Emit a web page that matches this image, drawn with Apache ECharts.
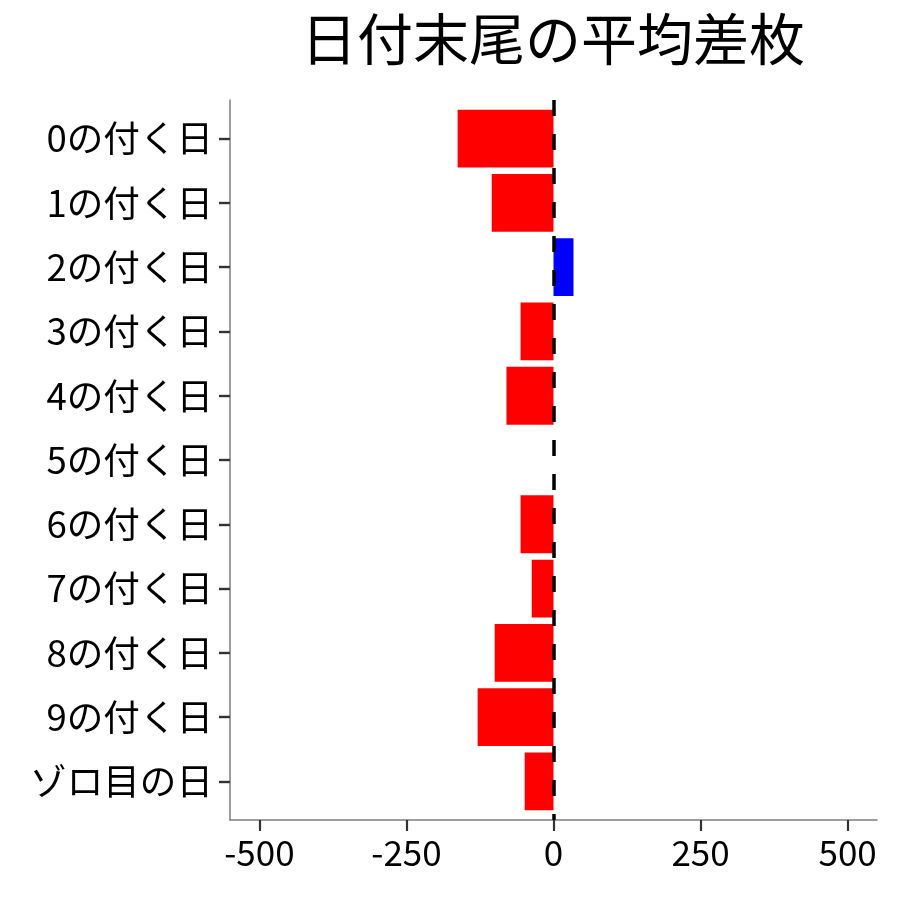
<!DOCTYPE html>
<html>
<head>
<meta charset="utf-8">
<script src="https://cdn.jsdelivr.net/npm/echarts@6/dist/echarts.min.js"></script>
<style>
html,body{margin:0;padding:0;background:#fff;}
#chart{width:900px;height:900px;}
</style>
</head>
<body>
<div id="chart"></div>
<script>
const titleText = '日付末尾の平均差枚';
const categories = ['0の付く日','1の付く日','2の付く日','3の付く日','4の付く日','5の付く日','6の付く日','7の付く日','8の付く日','9の付く日','ゾロ目の日'];
const values = [-163, -105, 34, -56, -80, 0, -56, -37, -100, -129, -49];
const xTicks = [-500, -250, 0, 250, 500];

const FONT = '"Noto Sans CJK JP", "Noto Sans", sans-serif';
const chart = echarts.init(document.getElementById('chart'), null, {renderer: 'canvas'});

const panelTop = 100, panelBottom = 80, panelLeft = 230, panelRight = 23;
const panelH = 900 - panelTop - panelBottom;
const unit = panelH / (categories.length - 1 + 1.2);
const inset = 0.1 * unit;

chart.setOption({
  animation: false,
  backgroundColor: '#fff',
  title: {
    text: titleText,
    left: 296,
    top: 6,
    textStyle: {fontFamily: FONT, fontSize: 56, fontWeight: 'normal', color: '#000'}
  },
  grid: [
    {left: panelLeft, right: panelRight, top: panelTop, bottom: panelBottom, containLabel: false},
    {left: panelLeft, right: panelRight, top: panelTop + inset, bottom: panelBottom + inset, containLabel: false}
  ],
  xAxis: [
    {
      gridIndex: 0, type: 'value', min: -550, max: 550,
      axisLine: {show: true, onZero: false, lineStyle: {color: '#7f7f7f', width: 1.5}},
      axisTick: {show: true, customValues: xTicks, length: 11, lineStyle: {color: '#333', width: 2.2}},
      axisLabel: {show: true, customValues: xTicks, margin: 15, fontFamily: FONT, fontSize: 35, color: '#000'},
      splitLine: {show: false}
    },
    {
      gridIndex: 1, type: 'value', min: -550, max: 550,
      axisLine: {show: false, onZero: false}, axisTick: {show: false}, axisLabel: {show: false}, splitLine: {show: false}
    }
  ],
  yAxis: [
    {
      gridIndex: 0, type: 'value', min: -0.6, max: 10.6, inverse: true,
      axisLine: {show: true, onZero: false, lineStyle: {color: '#7f7f7f', width: 1.5}},
      axisTick: {show: false}, axisLabel: {show: false}, splitLine: {show: false}
    },
    {
      gridIndex: 1, type: 'category', data: categories, inverse: true,
      axisLine: {show: false, onZero: false},
      axisTick: {show: true, alignWithLabel: true, length: 11, lineStyle: {color: '#333', width: 2.4}},
      axisLabel: {margin: 17, fontFamily: FONT, fontSize: 36.6, color: '#000'},
      splitLine: {show: false}
    }
  ],
  series: [
    {
      type: 'bar',
      xAxisIndex: 1, yAxisIndex: 1,
      data: values.map(v => ({value: v, itemStyle: {color: v >= 0 ? '#0000ff' : '#ff0000'}})),
      barCategoryGap: '10%',
      z: 2
    },
    {
      type: 'scatter',
      xAxisIndex: 0, yAxisIndex: 0,
      data: [],
      z: 5,
      markLine: {
        silent: true,
        symbol: 'none',
        label: {show: false},
        lineStyle: {color: '#000', width: 3.5, type: [16, 18]},
        data: [{xAxis: 0}],
        z: 5
      }
    }
  ]
});
</script>
</body>
</html>
